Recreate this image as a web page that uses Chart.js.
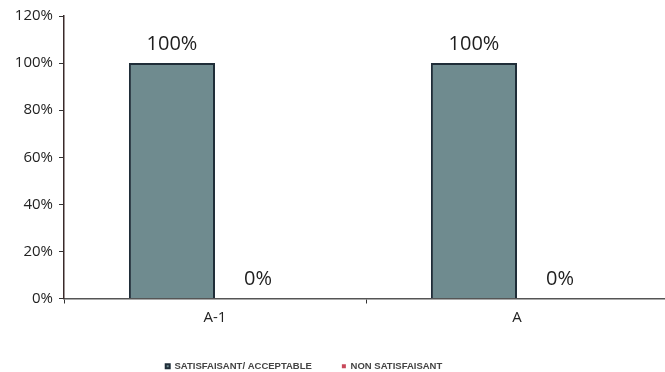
<!DOCTYPE html>
<html>
<head>
<meta charset="utf-8">
<script src="https://cdn.jsdelivr.net/npm/chart.js@4/dist/chart.umd.min.js"></script>
<style>
  html, body { margin: 0; padding: 0; background: #ffffff; overflow: hidden; }
  canvas { display: block; }
</style>
</head>
<body>
<canvas id="c" width="668" height="372"></canvas>
<script>
// Periods compared
const categories = ['A-1', 'A'];
// Share of results per period (%)
const satisfaisant = [100, 100];
const nonSatisfaisant = [0, 0];
// Y axis range and step (%)
const yMax = 120;
const yStep = 20;

// Writes each bar's value above it
const valueLabels = {
  id: 'valueLabels',
  afterDatasetsDraw(chart) {
    const ctx = chart.ctx;
    ctx.save();
    ctx.font = '20px "Open Sans"';
    ctx.fillStyle = '#1e1e1e';
    ctx.textAlign = 'center';
    ctx.textBaseline = 'middle';
    chart.data.datasets.forEach((ds, i) => {
      chart.getDatasetMeta(i).data.forEach((bar, j) => {
        ctx.fillText(ds.data[j] + '%', bar.x, bar.y - 19);
      });
    });
    ctx.restore();
  }
};

new Chart(document.getElementById('c'), {
  type: 'bar',
  data: {
    labels: categories,
    datasets: [
      {
        label: 'SATISFAISANT/ ACCEPTABLE',
        data: satisfaisant,
        backgroundColor: '#6f8b8f',
        borderColor: '#1f2d38',
        borderWidth: 2,
        borderSkipped: 'bottom'
      },
      {
        label: 'NON SATISFAISANT',
        data: nonSatisfaisant,
        backgroundColor: '#c8485a',
        borderColor: '#c8485a',
        borderWidth: 0
      }
    ]
  },
  options: {
    responsive: false,
    animation: false,
    layout: { padding: { top: 16, left: -60, right: 0, bottom: -9 } },
    datasets: { bar: { categoryPercentage: 0.57, barPercentage: 1 } },
    plugins: {
      tooltip: { enabled: false },
      legend: {
        position: 'bottom',
        labels: {
          boxWidth: 4,
          boxHeight: 4,
          padding: 30,
          color: '#444',
          font: { family: '"Liberation Sans"', size: 9.5, weight: 'bold' }
        }
      }
    },
    scales: {
      x: {
        offset: true,
        border: { color: '#555', width: 1.5 },
        grid: { offset: true, drawOnChartArea: false, tickLength: 5, color: '#333' },
        ticks: { color: '#222', padding: 5, font: { family: '"Open Sans"', size: 15 } }
      },
      y: {
        min: 0,
        max: yMax,
        afterFit(scale) { scale.width = 124; },
        border: { color: '#3a2a2a', width: 1.5 },
        grid: { drawOnChartArea: false, tickLength: 5, color: '#333' },
        ticks: {
          stepSize: yStep,
          padding: 6,
          color: '#222',
          font: { family: '"Open Sans"', size: 15 },
          callback: v => v + '%'
        }
      }
    }
  },
  plugins: [valueLabels]
});
</script>
</body>
</html>
